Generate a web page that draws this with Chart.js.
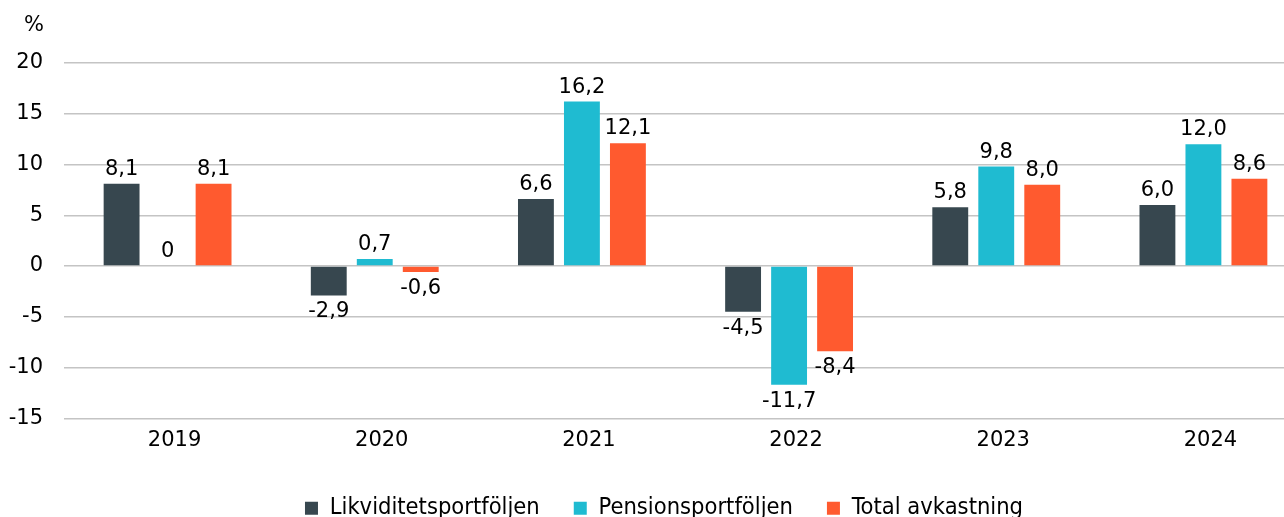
<!DOCTYPE html>
<html>
<head>
<meta charset="utf-8">
<script src="https://cdn.jsdelivr.net/npm/chart.js@4.4.1/dist/chart.umd.min.js"></script>
<style>
html,body{margin:0;padding:0;background:#fff;overflow:hidden;}
#wrap{width:1308px;height:530px;position:relative;}
</style>
</head>
<body>
<div id="wrap"><canvas id="c"></canvas></div>
<script>
const categories = ["2019", "2020", "2021", "2022", "2023", "2024"];
const seriesNames = ["Likviditetsportföljen", "Pensionsportföljen", "Total avkastning"];
const likviditet = [8.1, -2.9, 6.6, -4.5, 5.8, 6.0];
const pension = [0, 0.7, 16.2, -11.7, 9.8, 12.0];
const total = [8.1, -0.6, 12.1, -8.4, 8.0, 8.6];
const yTicks = [20, 15, 10, 5, 0, -5, -10, -15];
const unitLabel = "%";

const colors = ["#37474F", "#1FBBD1", "#FF5A2F"];
const mainFont = "'DejaVu Sans', Verdana, sans-serif";

function fmt(v){ return v === 0 ? "0" : v.toFixed(1).replace(".", ","); }

const labelPlugin = {
  id: "barLabels",
  afterLayout(chart){
    if (chart.legend) chart.legend.left = 21;
  },
  afterDatasetsDraw(chart){
    const ctx = chart.ctx;
    ctx.save();
    ctx.font = "21px " + mainFont;
    ctx.fillStyle = "#000";
    ctx.textAlign = "center";
    ctx.textBaseline = "alphabetic";
    chart.data.datasets.forEach((ds, di) => {
      const meta = chart.getDatasetMeta(di);
      meta.data.forEach((bar, i) => {
        const v = ds.data[i];
        const t = fmt(v);
        if (v >= 0) ctx.fillText(t, bar.x, bar.y - 9);
        else ctx.fillText(t, bar.x, bar.y + 22);
      });
    });
    ctx.fillText(unitLabel, 34, 31);
    ctx.restore();
  }
};

new Chart(document.getElementById("c"), {
  type: "bar",
  data: {
    labels: categories,
    datasets: [
      {label: seriesNames[0], data: likviditet, backgroundColor: colors[0]},
      {label: seriesNames[1], data: pension, backgroundColor: colors[1]},
      {label: seriesNames[2], data: total, backgroundColor: colors[2]}
    ]
  },
  options: {
    responsive: true,
    maintainAspectRatio: false,
    animation: false,
    devicePixelRatio: 1,
    layout: {padding: {left: 0, right: 1, top: 63, bottom: 0}},
    datasets: {bar: {categoryPercentage: 0.666, barPercentage: 0.78}},
    plugins: {
      legend: {
        position: "bottom",
        labels: {
          boxWidth: 13, boxHeight: 13, padding: 34,
          color: "#000",
          font: {family: "'DejaVu Sans Condensed', 'DejaVu Sans', sans-serif", size: 23.5}
        }
      },
      tooltip: {enabled: false}
    },
    scales: {
      x: {
        grid: {display: false},
        border: {display: false},
        afterFit(scale){ scale.height += 7; },
        ticks: {color: "#000", font: {family: mainFont, size: 21}, labelOffset: 7, padding: 2}
      },
      y: {
        min: -15, max: 20,
        afterFit(scale){ scale.width = 64; },
        afterBuildTicks(scale){ scale.ticks = yTicks.map(v => ({value: v})); },
        grid: {color: "#C4C4C4", lineWidth: 1.5, drawTicks: false},
        border: {display: false},
        ticks: {color: "#000", font: {family: mainFont, size: 21}, padding: 21}
      }
    }
  },
  plugins: [labelPlugin]
});
</script>
</body>
</html>
